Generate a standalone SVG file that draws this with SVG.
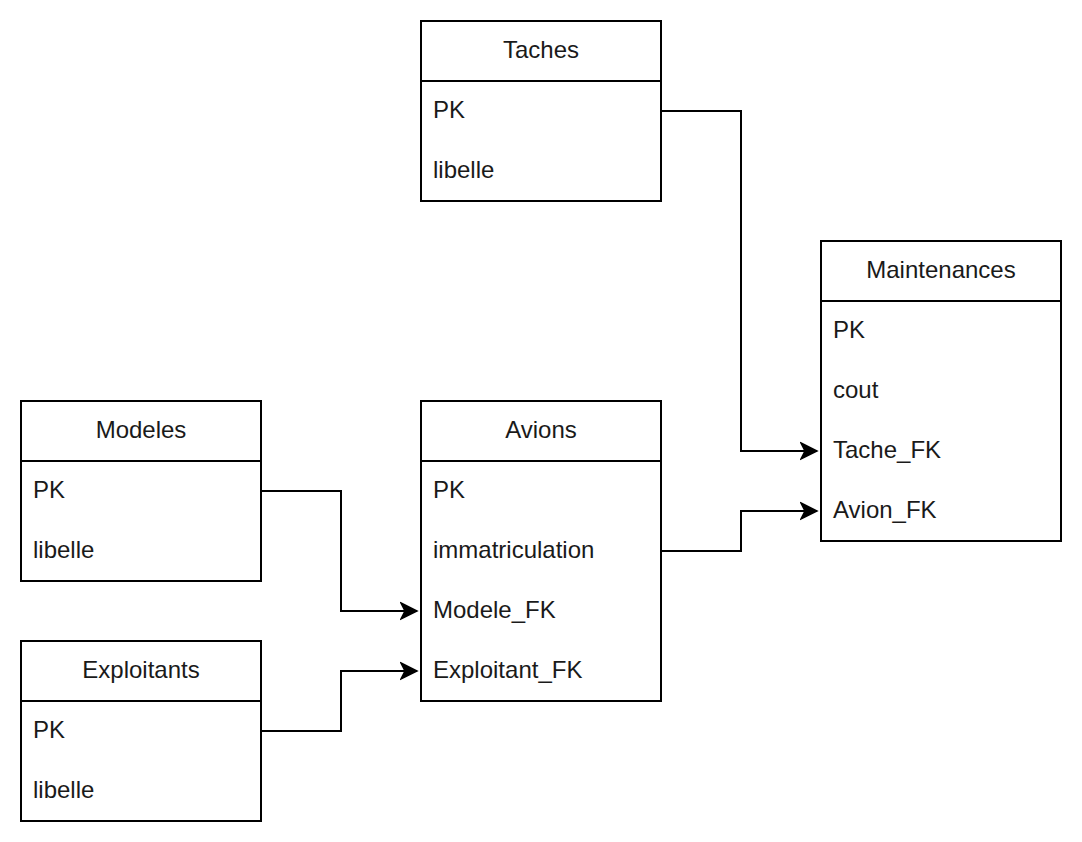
<svg xmlns="http://www.w3.org/2000/svg" width="1082" height="842" viewBox="0 0 1082 842">
<style>
.box{fill:#fff;stroke:#000;stroke-width:2}
.sep{stroke:#000;stroke-width:2}
.t{font-family:"Liberation Sans",Arial,sans-serif;font-size:24px;fill:#1a1a1a}
.h{text-anchor:middle}
.c{fill:none;stroke:#000;stroke-width:2}
</style>
<defs>
<marker id="arr" markerUnits="userSpaceOnUse" markerWidth="24" markerHeight="24" refX="17" refY="10" orient="auto">
<path d="M1,2 L17,10 L1,18 L5,10 Z" fill="#000" stroke="#000" stroke-width="1.5" stroke-linejoin="miter"/>
</marker>
</defs>
<rect width="1082" height="842" fill="#fff"/>
<g id="connectors">
<path class="c" d="M661,111 H741 V451 H817" marker-end="url(#arr)"/>
<path class="c" d="M661,551 H741 V511 H817" marker-end="url(#arr)"/>
<path class="c" d="M261,491 H341 V611 H417" marker-end="url(#arr)"/>
<path class="c" d="M261,731 H341 V671 H417" marker-end="url(#arr)"/>
</g>
<g id="taches">
<rect class="box" x="421" y="21" width="240" height="180"/>
<line class="sep" x1="421" y1="81" x2="661" y2="81"/>
<text class="t h" x="541" y="58">Taches</text>
<text class="t" x="433" y="118">PK</text>
<text class="t" x="433" y="178">libelle</text>
</g>
<g id="maintenances">
<rect class="box" x="821" y="241" width="240" height="300"/>
<line class="sep" x1="821" y1="301" x2="1061" y2="301"/>
<text class="t h" x="941" y="278">Maintenances</text>
<text class="t" x="833" y="338">PK</text>
<text class="t" x="833" y="398">cout</text>
<text class="t" x="833" y="458">Tache_FK</text>
<text class="t" x="833" y="518">Avion_FK</text>
</g>
<g id="modeles">
<rect class="box" x="21" y="401" width="240" height="180"/>
<line class="sep" x1="21" y1="461" x2="261" y2="461"/>
<text class="t h" x="141" y="438">Modeles</text>
<text class="t" x="33" y="498">PK</text>
<text class="t" x="33" y="558">libelle</text>
</g>
<g id="avions">
<rect class="box" x="421" y="401" width="240" height="300"/>
<line class="sep" x1="421" y1="461" x2="661" y2="461"/>
<text class="t h" x="541" y="438">Avions</text>
<text class="t" x="433" y="498">PK</text>
<text class="t" x="433" y="558">immatriculation</text>
<text class="t" x="433" y="618">Modele_FK</text>
<text class="t" x="433" y="678">Exploitant_FK</text>
</g>
<g id="exploitants">
<rect class="box" x="21" y="641" width="240" height="180"/>
<line class="sep" x1="21" y1="701" x2="261" y2="701"/>
<text class="t h" x="141" y="678">Exploitants</text>
<text class="t" x="33" y="738">PK</text>
<text class="t" x="33" y="798">libelle</text>
</g>
</svg>
